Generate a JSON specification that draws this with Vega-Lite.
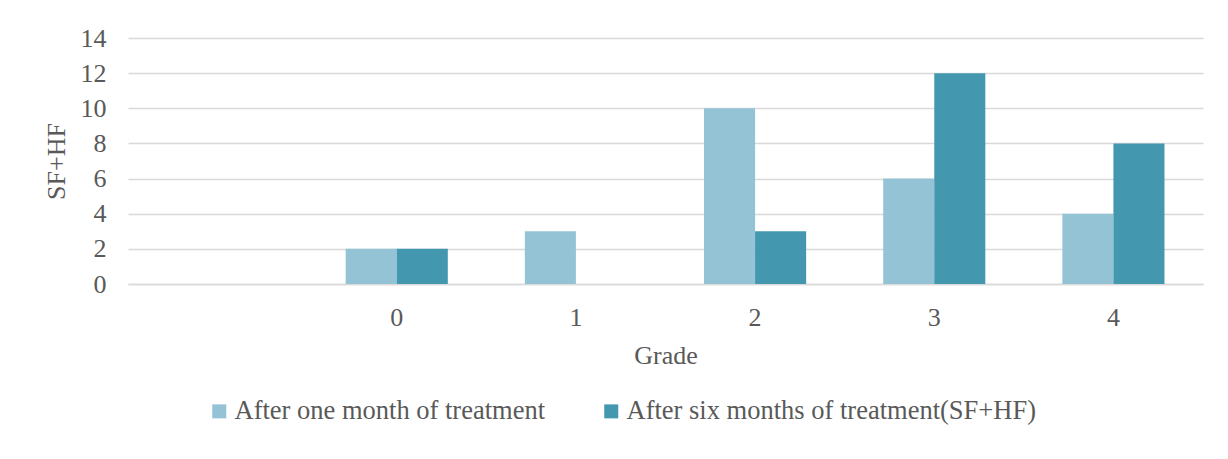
{
  "$schema": "https://vega.github.io/schema/vega-lite/v6.json",
  "width": 1075,
  "height": 246,
  "autosize": {"type": "none"},
  "padding": {"left": 128, "top": 38, "right": 25, "bottom": 175},
  "background": "white",
  "config": {
    "font": "Liberation Serif",
    "view": {"stroke": null},
    "axis": {"labelFont": "Liberation Serif", "titleFont": "Liberation Serif", "labelColor": "#595959", "titleColor": "#595959", "titleFontWeight": "normal", "labelFontSize": 26, "titleFontSize": 26},
    "legend": {"labelFont": "Liberation Serif", "labelColor": "#595959", "labelFontSize": 26.5, "labelLimit": 0}
  },
  "data": {
    "values": [
      {"grade": "0", "series": "After one month of treatment", "value": 2},
      {"grade": "0", "series": "After six months of treatment(SF+HF)", "value": 2},
      {"grade": "1", "series": "After one month of treatment", "value": 3},
      {"grade": "1", "series": "After six months of treatment(SF+HF)", "value": 0},
      {"grade": "2", "series": "After one month of treatment", "value": 10},
      {"grade": "2", "series": "After six months of treatment(SF+HF)", "value": 3},
      {"grade": "3", "series": "After one month of treatment", "value": 6},
      {"grade": "3", "series": "After six months of treatment(SF+HF)", "value": 12},
      {"grade": "4", "series": "After one month of treatment", "value": 4},
      {"grade": "4", "series": "After six months of treatment(SF+HF)", "value": 8}
    ]
  },
  "mark": {"type": "bar"},
  "encoding": {
    "x": {
      "field": "grade",
      "type": "nominal",
      "scale": {"domain": [" ", "0", "1", "2", "3", "4"], "paddingInner": 0.43, "paddingOuter": 0.215},
      "axis": {"title": "Grade", "labelAngle": 0, "ticks": false, "domainColor": "#d9d9d9", "domainWidth": 1.5, "labelPadding": 20, "titlePadding": 12, "grid": false}
    },
    "xOffset": {"field": "series", "type": "nominal", "scale": {"paddingInner": 0, "paddingOuter": 0}},
    "y": {
      "field": "value",
      "type": "quantitative",
      "scale": {"domain": [0, 14], "nice": false},
      "axis": {"title": "SF+HF", "values": [0, 2, 4, 6, 8, 10, 12, 14], "ticks": false, "domain": false, "gridColor": "#d9d9d9", "gridWidth": 1.5, "labelPadding": 22, "titleX": -72, "titleY": 123, "titleAngle": -90, "titleBaseline": "middle", "titleAlign": "center"}
    },
    "color": {
      "field": "series",
      "type": "nominal",
      "scale": {"domain": ["After one month of treatment", "After six months of treatment(SF+HF)"], "range": ["#93C3D4", "#4398B0"]},
      "legend": {"title": null, "orient": "none", "direction": "horizontal", "legendX": 78, "legendY": 360, "symbolType": "square", "symbolSize": 196, "symbolStrokeWidth": 0, "labelOffset": 2, "columnPadding": 52}
    }
  }
}
